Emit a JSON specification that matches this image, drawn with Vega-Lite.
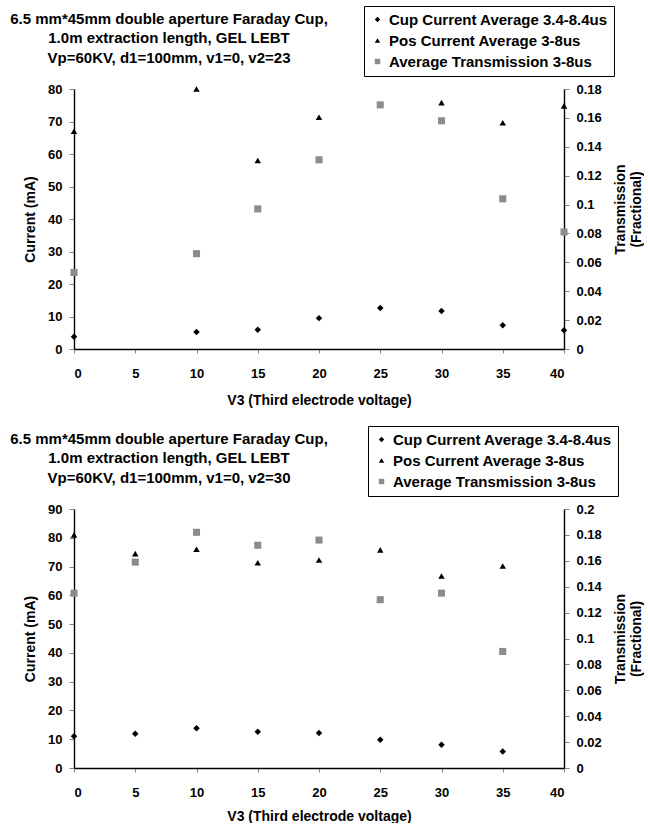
{
  "$schema": "https://vega.github.io/schema/vega-lite/v6.json",
  "background": "white",
  "padding": {"left": 10, "top": 5, "right": 0, "bottom": 0},
  "config": {
    "font": "Liberation Sans",
    "view": {"stroke": null},
    "axis": {"grid": false, "domainColor": "#000", "tickColor": "#888", "labelColor": "#000", "titleColor": "#000", "labelFont": "Liberation Sans", "titleFont": "Liberation Sans", "labelFontSize": 13, "labelFontWeight": "bold", "titleFontSize": 14, "titleFontWeight": "bold", "domainWidth": 1.4},
    "title": {"font": "Liberation Sans", "fontSize": 15, "fontWeight": "bold", "color": "#000"},
    "legend": {"labelFont": "Liberation Sans", "labelFontSize": 15, "labelFontWeight": "bold", "labelColor": "#000", "labelLimit": 400}
  },
  "datasets": {
    "pts": [
      {"panel": "v2=23", "v3": 0, "series": "Cup Current Average 3.4-8.4us", "value": 3.8},
      {"panel": "v2=23", "v3": 10, "series": "Cup Current Average 3.4-8.4us", "value": 5.2},
      {"panel": "v2=23", "v3": 15, "series": "Cup Current Average 3.4-8.4us", "value": 5.9},
      {"panel": "v2=23", "v3": 20, "series": "Cup Current Average 3.4-8.4us", "value": 9.5},
      {"panel": "v2=23", "v3": 25, "series": "Cup Current Average 3.4-8.4us", "value": 12.6},
      {"panel": "v2=23", "v3": 30, "series": "Cup Current Average 3.4-8.4us", "value": 11.7},
      {"panel": "v2=23", "v3": 35, "series": "Cup Current Average 3.4-8.4us", "value": 7.3},
      {"panel": "v2=23", "v3": 40, "series": "Cup Current Average 3.4-8.4us", "value": 5.8},
      {"panel": "v2=23", "v3": 0, "series": "Pos Current Average 3-8us", "value": 67},
      {"panel": "v2=23", "v3": 10, "series": "Pos Current Average 3-8us", "value": 80},
      {"panel": "v2=23", "v3": 15, "series": "Pos Current Average 3-8us", "value": 58},
      {"panel": "v2=23", "v3": 20, "series": "Pos Current Average 3-8us", "value": 71.3},
      {"panel": "v2=23", "v3": 30, "series": "Pos Current Average 3-8us", "value": 75.8},
      {"panel": "v2=23", "v3": 35, "series": "Pos Current Average 3-8us", "value": 69.6},
      {"panel": "v2=23", "v3": 40, "series": "Pos Current Average 3-8us", "value": 74.8},
      {"panel": "v2=23", "v3": 0, "series": "Average Transmission 3-8us", "value": 0.053},
      {"panel": "v2=23", "v3": 10, "series": "Average Transmission 3-8us", "value": 0.066},
      {"panel": "v2=23", "v3": 15, "series": "Average Transmission 3-8us", "value": 0.097},
      {"panel": "v2=23", "v3": 20, "series": "Average Transmission 3-8us", "value": 0.131},
      {"panel": "v2=23", "v3": 25, "series": "Average Transmission 3-8us", "value": 0.169},
      {"panel": "v2=23", "v3": 30, "series": "Average Transmission 3-8us", "value": 0.158},
      {"panel": "v2=23", "v3": 35, "series": "Average Transmission 3-8us", "value": 0.104},
      {"panel": "v2=23", "v3": 40, "series": "Average Transmission 3-8us", "value": 0.081},
      {"panel": "v2=30", "v3": 0, "series": "Cup Current Average 3.4-8.4us", "value": 11},
      {"panel": "v2=30", "v3": 5, "series": "Cup Current Average 3.4-8.4us", "value": 11.9},
      {"panel": "v2=30", "v3": 10, "series": "Cup Current Average 3.4-8.4us", "value": 13.8},
      {"panel": "v2=30", "v3": 15, "series": "Cup Current Average 3.4-8.4us", "value": 12.6},
      {"panel": "v2=30", "v3": 20, "series": "Cup Current Average 3.4-8.4us", "value": 12.2},
      {"panel": "v2=30", "v3": 25, "series": "Cup Current Average 3.4-8.4us", "value": 9.8},
      {"panel": "v2=30", "v3": 30, "series": "Cup Current Average 3.4-8.4us", "value": 8.1},
      {"panel": "v2=30", "v3": 35, "series": "Cup Current Average 3.4-8.4us", "value": 5.7},
      {"panel": "v2=30", "v3": 0, "series": "Pos Current Average 3-8us", "value": 81},
      {"panel": "v2=30", "v3": 5, "series": "Pos Current Average 3-8us", "value": 74.5},
      {"panel": "v2=30", "v3": 10, "series": "Pos Current Average 3-8us", "value": 76},
      {"panel": "v2=30", "v3": 15, "series": "Pos Current Average 3-8us", "value": 71.3},
      {"panel": "v2=30", "v3": 20, "series": "Pos Current Average 3-8us", "value": 72.3},
      {"panel": "v2=30", "v3": 25, "series": "Pos Current Average 3-8us", "value": 75.8},
      {"panel": "v2=30", "v3": 30, "series": "Pos Current Average 3-8us", "value": 66.7},
      {"panel": "v2=30", "v3": 35, "series": "Pos Current Average 3-8us", "value": 70.2},
      {"panel": "v2=30", "v3": 0, "series": "Average Transmission 3-8us", "value": 0.135},
      {"panel": "v2=30", "v3": 5, "series": "Average Transmission 3-8us", "value": 0.159},
      {"panel": "v2=30", "v3": 10, "series": "Average Transmission 3-8us", "value": 0.182},
      {"panel": "v2=30", "v3": 15, "series": "Average Transmission 3-8us", "value": 0.172},
      {"panel": "v2=30", "v3": 20, "series": "Average Transmission 3-8us", "value": 0.176},
      {"panel": "v2=30", "v3": 25, "series": "Average Transmission 3-8us", "value": 0.130},
      {"panel": "v2=30", "v3": 30, "series": "Average Transmission 3-8us", "value": 0.135},
      {"panel": "v2=30", "v3": 35, "series": "Average Transmission 3-8us", "value": 0.090}
    ]
  },
  "resolve": {"scale": {"shape": "independent", "color": "independent"}, "legend": {"shape": "independent", "color": "independent"}},
  "spacing": 18,
  "vconcat": [
    {
      "width": 490,
      "height": 260,
      "title": {"text": ["6.5 mm*45mm double aperture Faraday Cup,", "1.0m extraction length, GEL LEBT", "Vp=60KV, d1=100mm, v1=0, v2=23"], "anchor": "start", "frame": "group", "align": "center", "dx": 95, "lineHeight": 19.5, "offset": -60},
      "data": {"name": "pts"},
      "transform": [{"filter": "datum.panel === 'v2=23'"}],
      "encoding": {
        "x": {"field": "v3", "type": "quantitative", "scale": {"domain": [0, 40]}, "axis": {"title": "V3 (Third electrode voltage)", "values": [0, 5, 10, 15, 20, 25, 30, 35, 40], "tickSize": 4, "labelPadding": 14, "titlePadding": 13}},
        "shape": {"field": "series", "type": "nominal", "scale": {"domain": ["Cup Current Average 3.4-8.4us", "Pos Current Average 3-8us", "Average Transmission 3-8us"], "range": ["diamond", "triangle-up", "square"]}, "legend": {"title": null, "orient": "none", "legendX": 290, "legendY": -83, "strokeColor": "#000", "padding": 6, "symbolSize": 30, "rowPadding": 5, "labelOffset": 4}},
        "color": {"field": "series", "type": "nominal", "scale": {"domain": ["Cup Current Average 3.4-8.4us", "Pos Current Average 3-8us", "Average Transmission 3-8us"], "range": ["#000000", "#000000", "#8c8c8c"]}, "legend": {"title": null, "orient": "none", "legendX": 290, "legendY": -83, "strokeColor": "#000", "padding": 6, "symbolSize": 30, "rowPadding": 5, "labelOffset": 4}}
      },
      "layer": [
        {
          "transform": [{"filter": "datum.series !== 'Average Transmission 3-8us'"}],
          "mark": {"type": "point", "filled": true, "size": 42, "opacity": 1},
          "encoding": {"y": {"field": "value", "type": "quantitative", "scale": {"domain": [0, 80]}, "axis": {"title": "Current (mA)", "values": [0, 10, 20, 30, 40, 50, 60, 70, 80], "tickSize": 5, "labelPadding": 7, "titlePadding": 10}}}
        },
        {
          "transform": [{"filter": "datum.series === 'Average Transmission 3-8us'"}],
          "mark": {"type": "point", "filled": true, "size": 50, "opacity": 1},
          "encoding": {"y": {"field": "value", "type": "quantitative", "scale": {"domain": [0, 0.18]}, "axis": {"orient": "right", "title": ["Transmission", "(Fractional)"], "titleAngle": -90, "titleY": 120, "format": "~g", "values": [0, 0.02, 0.04, 0.06, 0.08, 0.1, 0.12, 0.14, 0.16, 0.18], "tickSize": 5, "labelPadding": 7, "titlePadding": 10, "titleLineHeight": 16}}}
        }
      ],
      "resolve": {"scale": {"y": "independent"}}
    },
    {
      "width": 490,
      "height": 259,
      "title": {"text": ["6.5 mm*45mm double aperture Faraday Cup,", "1.0m extraction length, GEL LEBT", "Vp=60KV, d1=100mm, v1=0, v2=30"], "anchor": "start", "frame": "group", "align": "center", "dx": 95, "lineHeight": 19.5, "offset": -60},
      "data": {"name": "pts"},
      "transform": [{"filter": "datum.panel === 'v2=30'"}],
      "encoding": {
        "x": {"field": "v3", "type": "quantitative", "scale": {"domain": [0, 40]}, "axis": {"title": "V3 (Third electrode voltage)", "values": [0, 5, 10, 15, 20, 25, 30, 35, 40], "tickSize": 4, "labelPadding": 14, "titlePadding": 10}},
        "shape": {"field": "series", "type": "nominal", "scale": {"domain": ["Cup Current Average 3.4-8.4us", "Pos Current Average 3-8us", "Average Transmission 3-8us"], "range": ["diamond", "triangle-up", "square"]}, "legend": {"title": null, "orient": "none", "legendX": 294, "legendY": -83, "strokeColor": "#000", "padding": 6, "symbolSize": 30, "rowPadding": 5, "labelOffset": 4}},
        "color": {"field": "series", "type": "nominal", "scale": {"domain": ["Cup Current Average 3.4-8.4us", "Pos Current Average 3-8us", "Average Transmission 3-8us"], "range": ["#000000", "#000000", "#8c8c8c"]}, "legend": {"title": null, "orient": "none", "legendX": 294, "legendY": -83, "strokeColor": "#000", "padding": 6, "symbolSize": 30, "rowPadding": 5, "labelOffset": 4}}
      },
      "layer": [
        {
          "transform": [{"filter": "datum.series !== 'Average Transmission 3-8us'"}],
          "mark": {"type": "point", "filled": true, "size": 42, "opacity": 1},
          "encoding": {"y": {"field": "value", "type": "quantitative", "scale": {"domain": [0, 90]}, "axis": {"title": "Current (mA)", "values": [0, 10, 20, 30, 40, 50, 60, 70, 80, 90], "tickSize": 5, "labelPadding": 7, "titlePadding": 10}}}
        },
        {
          "transform": [{"filter": "datum.series === 'Average Transmission 3-8us'"}],
          "mark": {"type": "point", "filled": true, "size": 50, "opacity": 1},
          "encoding": {"y": {"field": "value", "type": "quantitative", "scale": {"domain": [0, 0.2]}, "axis": {"orient": "right", "title": ["Transmission", "(Fractional)"], "titleAngle": -90, "format": "~g", "values": [0, 0.02, 0.04, 0.06, 0.08, 0.1, 0.12, 0.14, 0.16, 0.18, 0.2], "tickSize": 5, "labelPadding": 7, "titlePadding": 10, "titleLineHeight": 16}}}
        }
      ],
      "resolve": {"scale": {"y": "independent"}}
    }
  ]
}
